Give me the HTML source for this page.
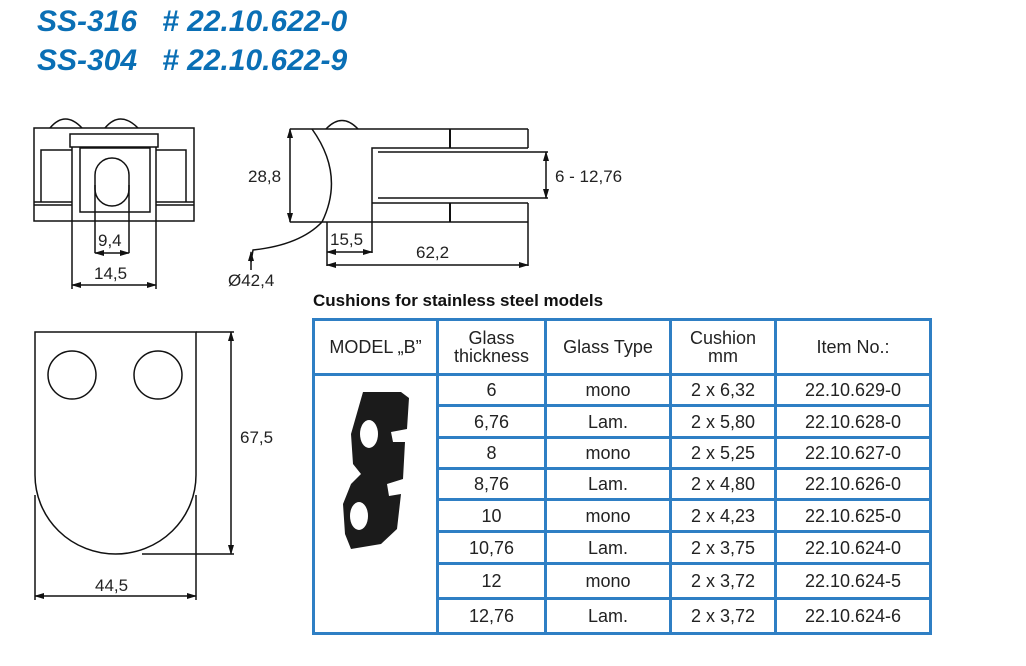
<!DOCTYPE html>
<html><head><meta charset="utf-8"><style>
body{margin:0;background:#fff;width:1026px;height:666px;overflow:hidden;font-family:"Liberation Sans",Arial,sans-serif}
.t{position:absolute;left:37px;color:#0a6fb5;font-weight:bold;font-style:italic;font-size:30px;white-space:pre}
table{position:absolute;left:312px;top:318px;border-collapse:collapse;width:620px}
td{border:3px solid #2f7fc4;text-align:center;font-size:18px;color:#222;padding:0;line-height:18px}
</style></head><body>
<div class="t" style="top:5px">SS-316   # 22.10.622-0</div>
<div class="t" style="top:44px">SS-304   # 22.10.622-9</div>
<svg width="1026" height="666" style="position:absolute;left:0;top:0" font-family="Liberation Sans, Arial, sans-serif" font-size="17" fill="none" stroke="#111" stroke-width="1.5">
<defs><marker id="a" markerWidth="10" markerHeight="6" refX="9" refY="3" orient="auto-start-reverse" markerUnits="userSpaceOnUse"><path d="M0,0L10,3L0,6z" fill="#111" stroke="none"/></marker></defs>
<!-- left front view -->
<path d="M50,128 Q65,110 82,128 M105,128 Q120,110 138,128"/>
<rect x="34" y="128" width="160" height="93"/>
<rect x="70" y="134" width="88" height="13"/>
<path d="M41,202 L41,150 L72,150 M156,150 L186,150 L186,202"/>
<line x1="34" y1="202" x2="72" y2="202"/><line x1="34" y1="205" x2="72" y2="205"/>
<line x1="156" y1="202" x2="194" y2="202"/><line x1="156" y1="205" x2="194" y2="205"/>
<line x1="72" y1="147" x2="72" y2="289"/><line x1="156" y1="147" x2="156" y2="289"/>
<rect x="80" y="148" width="70" height="64"/>
<rect x="95" y="158" width="34" height="48" rx="17"/>
<line x1="95" y1="185" x2="95" y2="253"/><line x1="129" y1="185" x2="129" y2="253"/>
<line x1="95" y1="253" x2="129" y2="253" marker-start="url(#a)" marker-end="url(#a)"/>
<line x1="72" y1="285" x2="156" y2="285" marker-start="url(#a)" marker-end="url(#a)"/>
<g fill="#222" stroke="none"><text x="98" y="246">9,4</text><text x="94" y="279">14,5</text></g>
<!-- side view -->
<path d="M326,129 Q342,112 358,129"/>
<line x1="290" y1="129" x2="528" y2="129"/><line x1="290" y1="222" x2="528" y2="222"/>
<line x1="528" y1="129" x2="528" y2="148"/><line x1="528" y1="203" x2="528" y2="222"/>
<line x1="450" y1="129" x2="450" y2="148" stroke-width="2"/><line x1="450" y1="203" x2="450" y2="222" stroke-width="2"/>
<path d="M528,148 L372,148 L372,222"/>
<line x1="372" y1="203" x2="528" y2="203"/>
<line x1="378" y1="152" x2="520" y2="152"/><line x1="378" y1="198" x2="520" y2="198"/>
<line x1="520" y1="152" x2="548" y2="152"/><line x1="520" y1="198" x2="548" y2="198"/>
<line x1="546" y1="152" x2="546" y2="198" marker-start="url(#a)" marker-end="url(#a)"/>
<path d="M312,129 Q345,175 322,222 Q300,245 253,250 L251,262" />
<line x1="251" y1="270" x2="251" y2="252" marker-end="url(#a)"/>
<line x1="290" y1="129" x2="290" y2="222" marker-start="url(#a)" marker-end="url(#a)"/>
<line x1="327" y1="222" x2="327" y2="266"/><line x1="372" y1="222" x2="372" y2="253"/><line x1="528" y1="222" x2="528" y2="266"/>
<line x1="327" y1="252" x2="372" y2="252" marker-start="url(#a)" marker-end="url(#a)"/>
<line x1="327" y1="265" x2="528" y2="265" marker-start="url(#a)" marker-end="url(#a)"/>
<g fill="#222" stroke="none"><text x="248" y="182">28,8</text><text x="555" y="182">6 - 12,76</text><text x="330" y="245">15,5</text><text x="416" y="258">62,2</text><text x="228" y="286">Ø42,4</text></g>
<!-- bottom view -->
<path d="M35,475 L35,332 L196,332 L196,475 A80.5,79 0 0 1 35,475"/>
<circle cx="72" cy="375" r="24"/><circle cx="158" cy="375" r="24"/>
<line x1="196" y1="332" x2="234" y2="332"/><line x1="142" y1="554" x2="234" y2="554"/>
<line x1="231" y1="332" x2="231" y2="554" marker-start="url(#a)" marker-end="url(#a)"/>
<line x1="35" y1="495" x2="35" y2="600"/><line x1="196" y1="495" x2="196" y2="600"/>
<line x1="35" y1="596" x2="196" y2="596" marker-start="url(#a)" marker-end="url(#a)"/>
<g fill="#222" stroke="none"><text x="240" y="443">67,5</text><text x="95" y="591">44,5</text>
<text x="313" y="306" font-weight="bold" font-size="17" fill="#111">Cushions for stainless steel models</text></g>
</svg>
<table>
<tr style="height:55px"><td style="width:121px">MODEL „B”</td><td style="width:105px">Glass<br>thickness</td><td style="width:122px">Glass Type</td><td style="width:102px">Cushion<br>mm</td><td>Item No.:</td></tr>
<tr style="height:31px"><td rowspan="8" style="vertical-align:top;position:relative">
<svg width="90" height="190" style="display:block;margin:8px auto 0"><path d="M32,8 L70,8 L78,14 L76,45 L60,48 L62,58 L74,58 L72,95 L56,100 L58,112 L70,110 L66,145 L50,160 L20,165 L14,150 L12,120 L20,100 L30,90 L22,80 L20,50 Z" fill="#1b1b1b"/><ellipse cx="38" cy="50" rx="9" ry="14" fill="#fff"/><ellipse cx="28" cy="132" rx="9" ry="14" fill="#fff"/></svg></td><td>6</td><td>mono</td><td>2 x 6,32</td><td>22.10.629-0</td></tr>
<tr style="height:32px"><td>6,76</td><td>Lam.</td><td>2 x 5,80</td><td>22.10.628-0</td></tr>
<tr style="height:31px"><td>8</td><td>mono</td><td>2 x 5,25</td><td>22.10.627-0</td></tr>
<tr style="height:31px"><td>8,76</td><td>Lam.</td><td>2 x 4,80</td><td>22.10.626-0</td></tr>
<tr style="height:32px"><td>10</td><td>mono</td><td>2 x 4,23</td><td>22.10.625-0</td></tr>
<tr style="height:32px"><td>10,76</td><td>Lam.</td><td>2 x 3,75</td><td>22.10.624-0</td></tr>
<tr style="height:35px"><td>12</td><td>mono</td><td>2 x 3,72</td><td>22.10.624-5</td></tr>
<tr style="height:35px"><td>12,76</td><td>Lam.</td><td>2 x 3,72</td><td>22.10.624-6</td></tr>
</table>
</body></html>
